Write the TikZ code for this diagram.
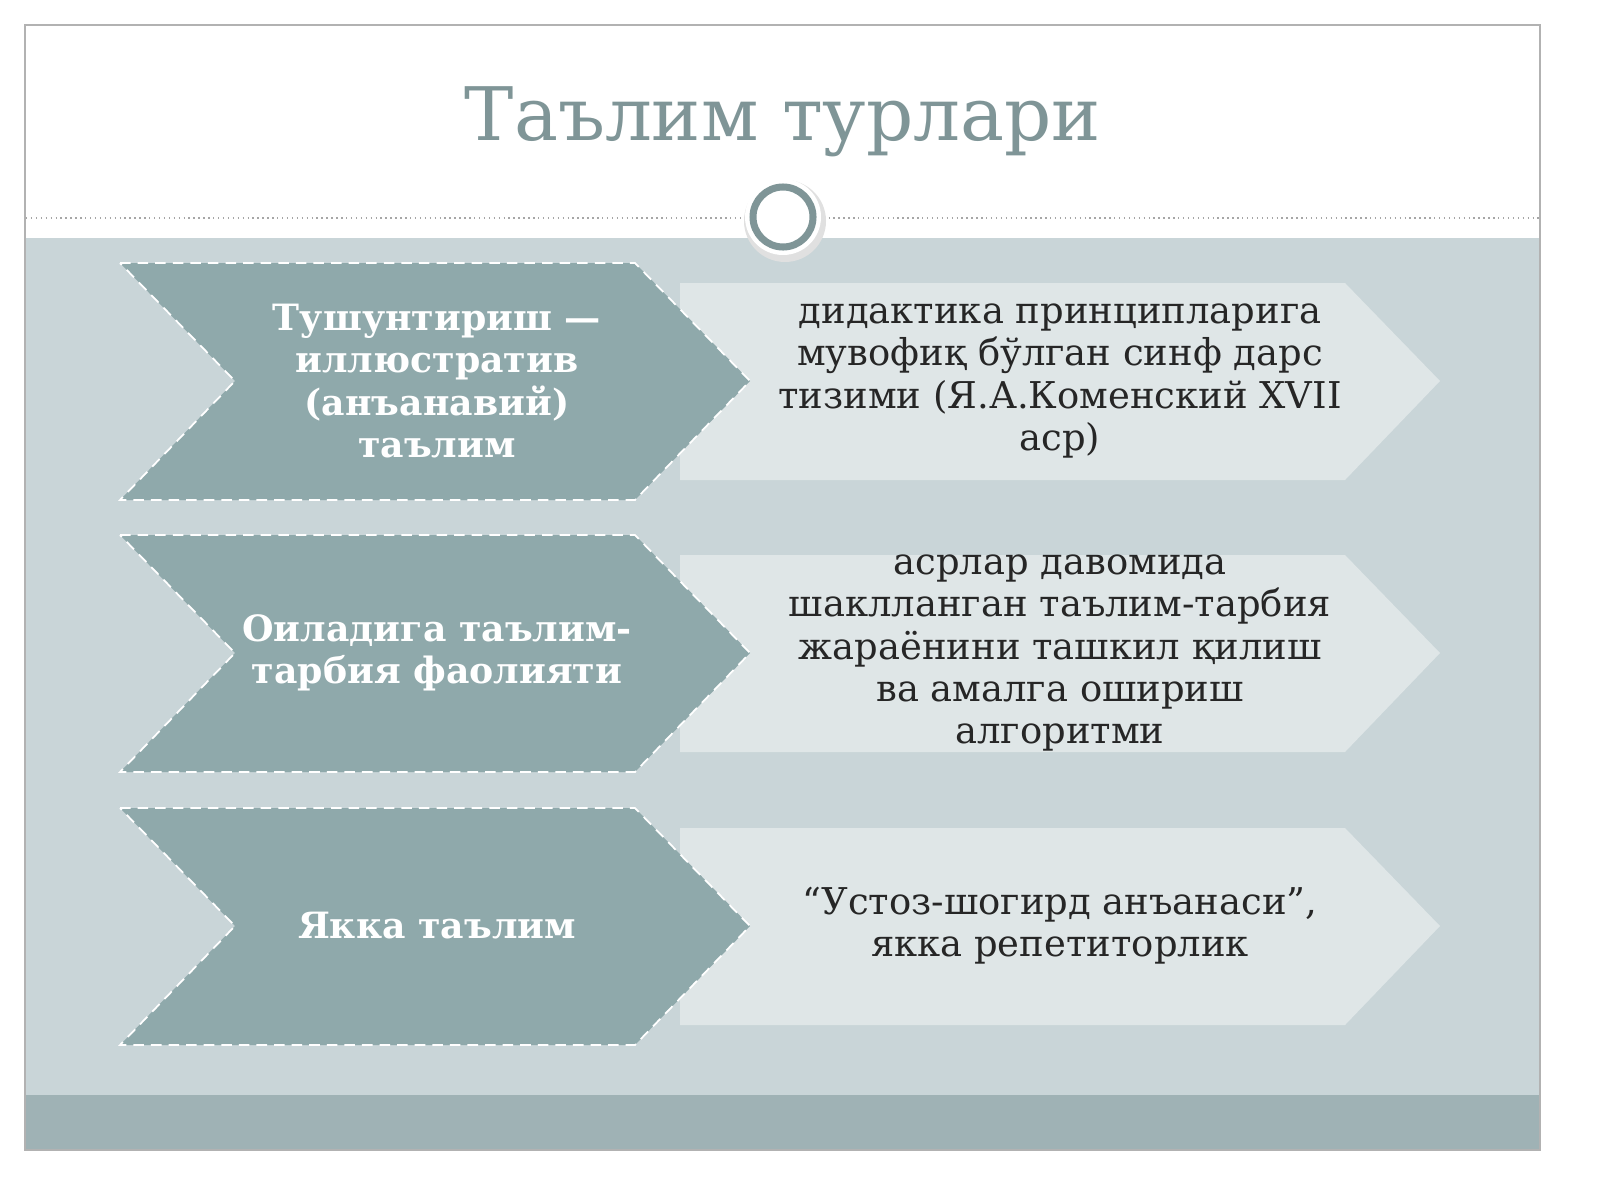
\documentclass[tikz,border=0pt]{standalone}
\usepackage{fontspec}
\setmainfont{DejaVu Serif}
\usetikzlibrary{positioning}
\definecolor{slate}{HTML}{8FA9AB}
\definecolor{pale}{HTML}{DFE6E7}
\definecolor{band}{HTML}{C9D5D8}
\definecolor{foot}{HTML}{9FB2B5}
\definecolor{titlec}{HTML}{7F9597}
\tikzset{
  chev/.style={fill=slate,draw=white,densely dashed,line width=0.5pt},
  tail/.style={fill=pale,draw=none},
  lefttxt/.style={text=white,font=\bfseries\fontsize{10.3}{12}\selectfont,align=center},
  righttxt/.style={text=black!85,font=\fontsize{10.5}{12}\selectfont,align=center}
}
\begin{document}
\begin{tikzpicture}[x=0.01cm,y=-0.01cm]
  \useasboundingbox (0,0) rectangle (1600,1200);
  \fill[white] (0,0) rectangle (1600,1200);
  % slide
  \draw[gray!60,fill=white] (25,25) rectangle (1540,1150);
  \fill[band] (26,238) rectangle (1539,1095);
  \fill[foot] (26,1095) rectangle (1539,1149);
  \draw[gray!70,densely dotted,line width=0.4pt] (26,218) -- (1539,218);
  \node (title) at (783,122) {\textcolor{titlec}{\fontsize{21}{25}\selectfont Таълим турлари}};
  \fill[black!12] (785,221) circle (41);
  \fill[white] (783,217) circle (38);
  \draw[titlec,line width=2pt] (783,217) circle (30);
  % rows
  \foreach \t in {263,535,808}{
    \fill[tail] (680,\t+20) -- (1345,\t+20) -- (1440,\t+118) -- (1345,\t+217) -- (680,\t+217) -- cycle;
    \draw[chev] (120,\t) -- (635,\t) -- (750,\t+118) -- (635,\t+237) -- (120,\t+237) -- (235,\t+118) -- cycle;
  }
  \node[lefttxt] (l1) at (437,381) {Тушунтириш —\\иллюстратив\\(анъанавий)\\таълим};
  \node[lefttxt] (l2) at (437,653) {Оиладига таълим-\\тарбия фаолияти};
  \node[lefttxt] (l3) at (437,926) {Якка таълим};
  \node[righttxt] (r1) at (1060,381) {дидактика принципларига\\мувофиқ бўлган синф дарс\\тизими (Я.А.Коменский XVII\\аср)};
  \node[righttxt] (r2) at (1060,653) {асрлар давомида\\шаклланган таълим-тарбия\\жараёнини ташкил қилиш\\ва амалга ошириш\\алгоритми};
  \node[righttxt] (r3) at (1060,926) {“Устоз-шогирд анъанаси”,\\якка репетиторлик};
\end{tikzpicture}
\end{document}
